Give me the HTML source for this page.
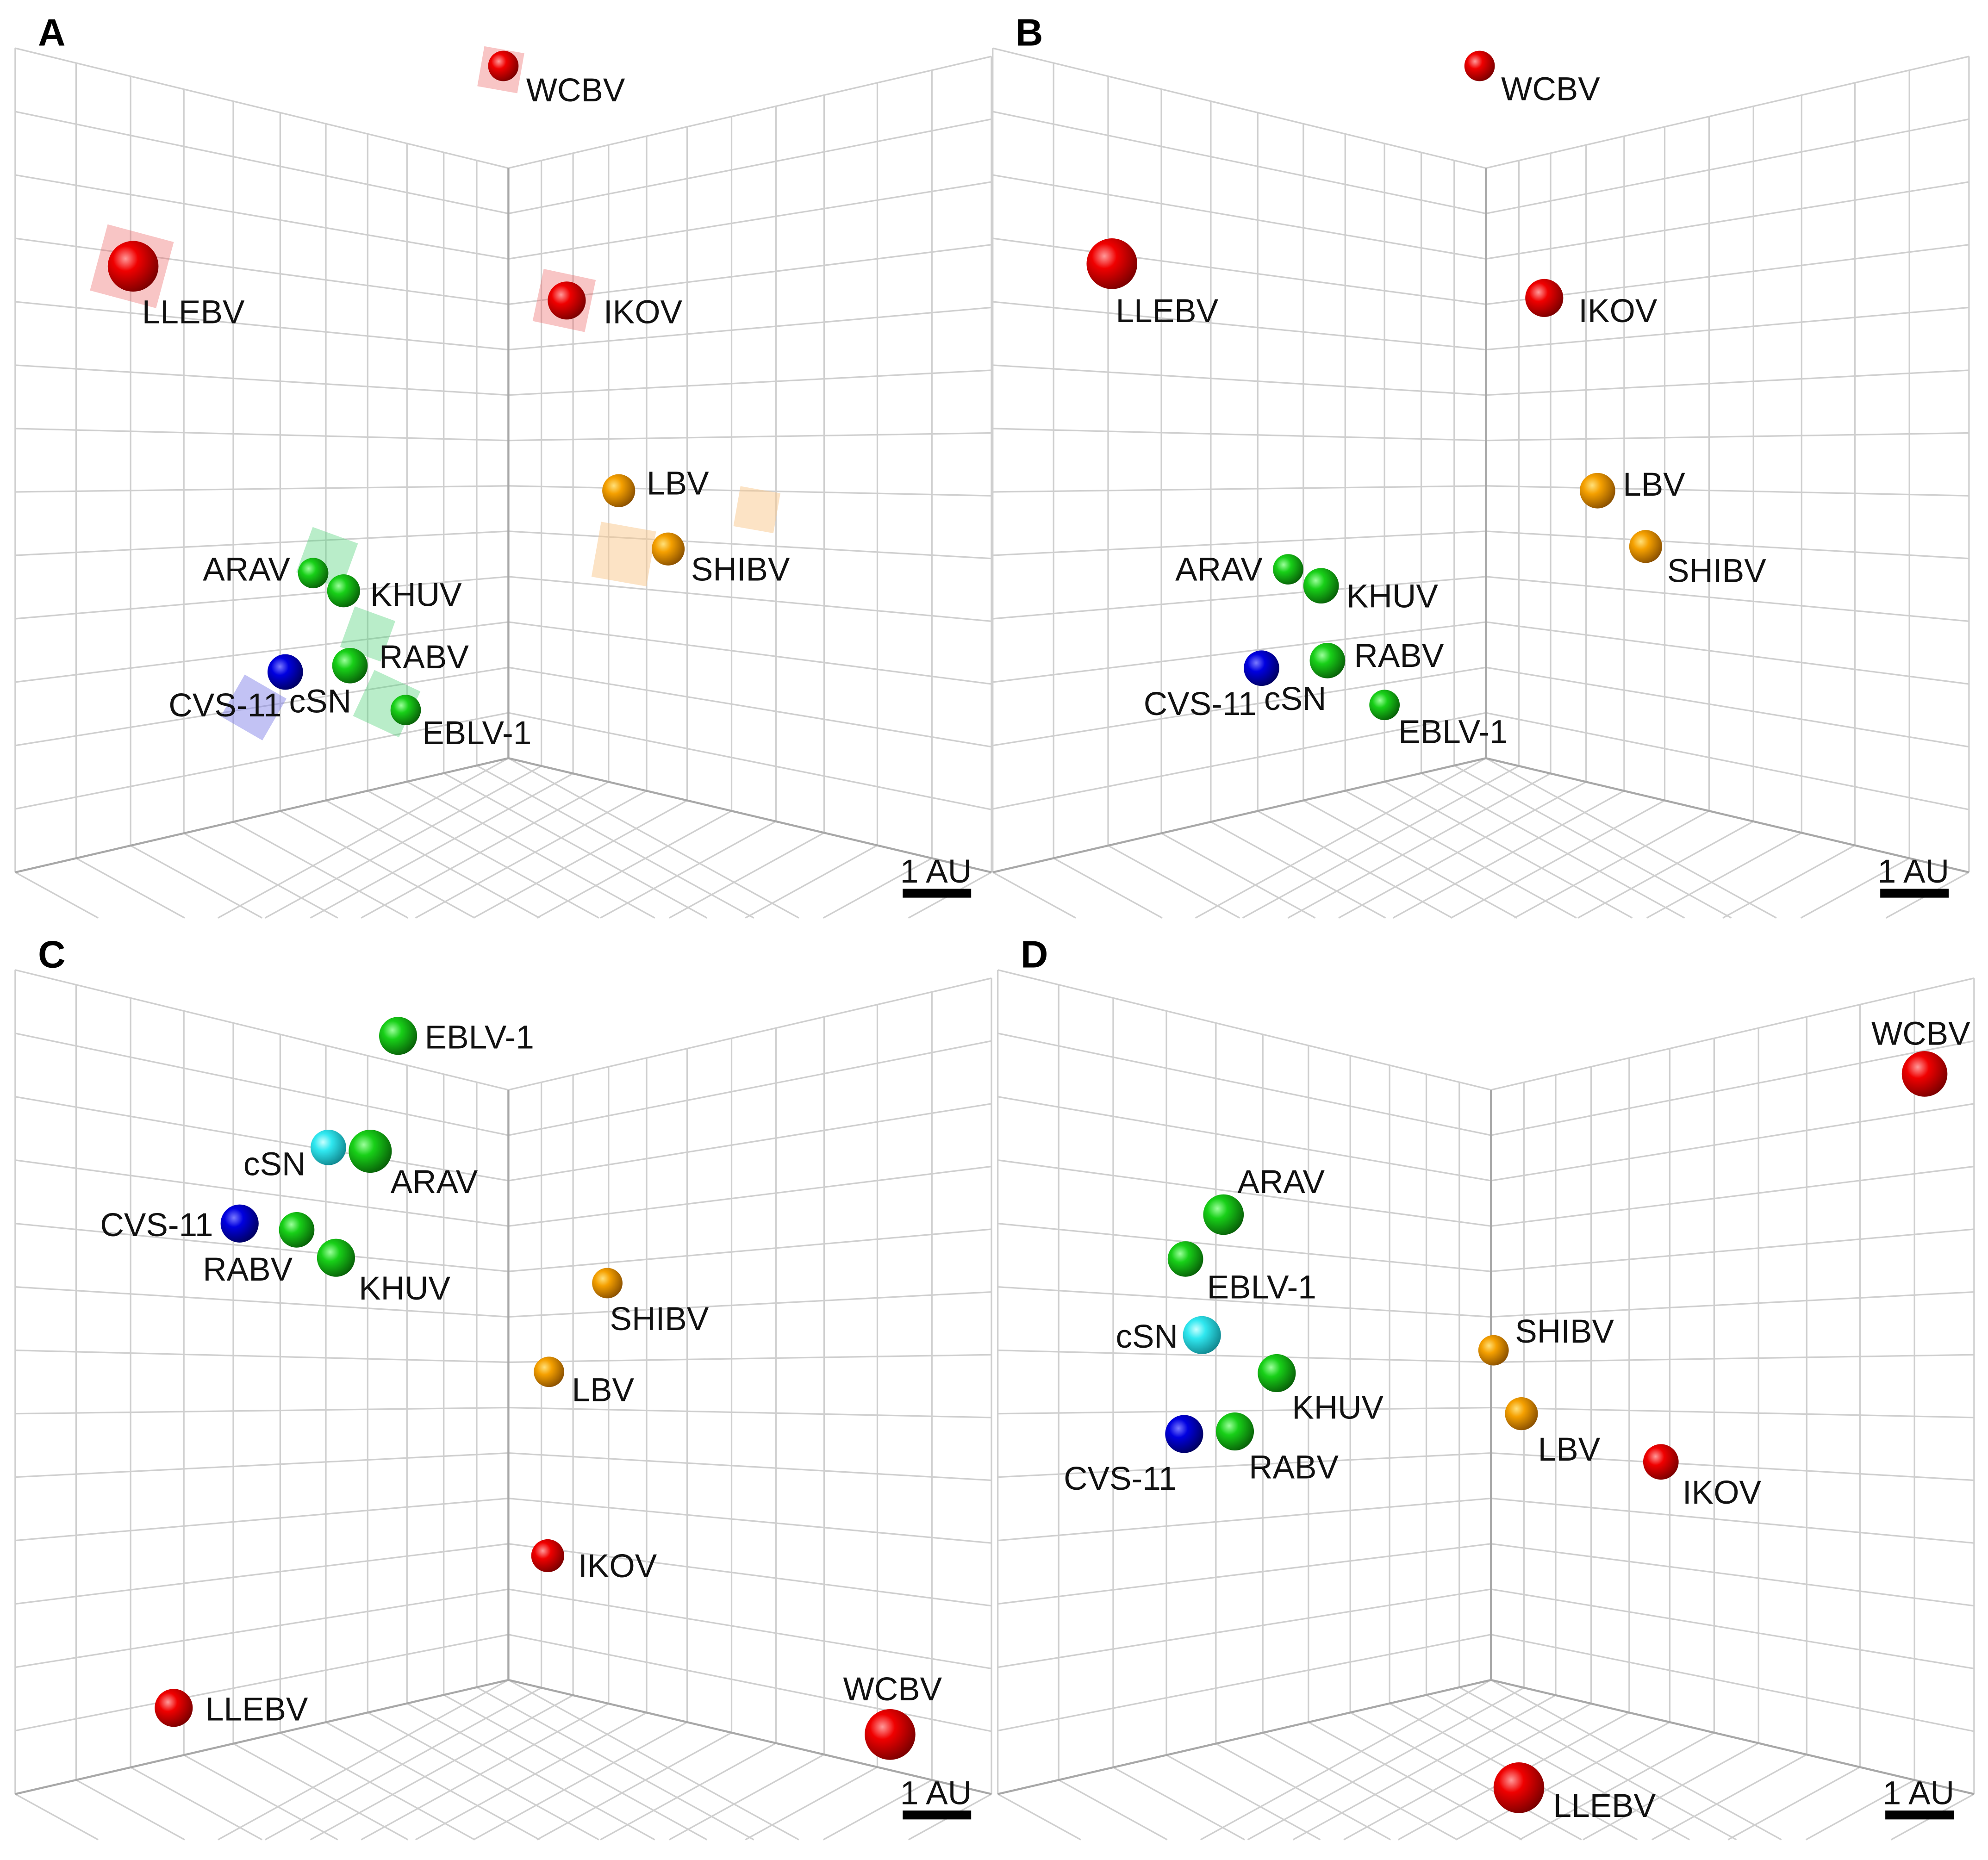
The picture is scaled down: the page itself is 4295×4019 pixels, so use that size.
<!DOCTYPE html>
<html><head><meta charset="utf-8"><style>
html,body{margin:0;padding:0;background:#fff;width:4295px;height:4019px;overflow:hidden}
svg{display:block;overflow:hidden}
text{font-family:"Liberation Sans",sans-serif}
</style></head><body>
<svg id="fig" width="4295" height="4019" viewBox="0 0 1568 1467" preserveAspectRatio="none" xmlns="http://www.w3.org/2000/svg">
<defs>
<radialGradient id="g-red" cx="0.35" cy="0.35" r="0.7"><stop offset="0" stop-color="#ff9a9a"/><stop offset="0.35" stop-color="#f00000"/><stop offset="1" stop-color="#7a0000"/></radialGradient>
<radialGradient id="g-green" cx="0.35" cy="0.35" r="0.7"><stop offset="0" stop-color="#9cff9c"/><stop offset="0.35" stop-color="#18d018"/><stop offset="1" stop-color="#086008"/></radialGradient>
<radialGradient id="g-blue" cx="0.35" cy="0.35" r="0.7"><stop offset="0" stop-color="#7a7aff"/><stop offset="0.35" stop-color="#0000e0"/><stop offset="1" stop-color="#000060"/></radialGradient>
<radialGradient id="g-orange" cx="0.35" cy="0.35" r="0.7"><stop offset="0" stop-color="#ffe07a"/><stop offset="0.35" stop-color="#f5a000"/><stop offset="1" stop-color="#8a5000"/></radialGradient>
<radialGradient id="g-cyan" cx="0.35" cy="0.35" r="0.7"><stop offset="0" stop-color="#c8ffff"/><stop offset="0.35" stop-color="#30e8f0"/><stop offset="1" stop-color="#108890"/></radialGradient>
</defs>
</svg>
<script>
// ---- data (projected plot coordinates, per panel) ----
const namesA = ["WCBV","LLEBV","IKOV","LBV","SHIBV","ARAV","KHUV","RABV","CVS-11","EBLV-1"];
const xA = [397,105,447,488,527,247,271,276,225,320];
const yA = [52,210,237,387,433,452,466,525,530,560];
const rA = [12,20,15,13,13,12,13,14,14,12];
const cA = ["red","red","red","orange","orange","green","green","green","blue","green"];
const lxA = [415,112,476,510,545,160,292,299,133,333];
const lyA = [80,255,255,390,458,458,478,527,565,587];

const namesB = ["WCBV","LLEBV","IKOV","LBV","SHIBV","ARAV","KHUV","RABV","CVS-11","EBLV-1"];
const xB = [396,106,447,489,527,245,271,276,224,321];
const yB = [52,208,235,387,431,449,462,521,527,556];
const rB = [12,20,15,14,13,12,14,14,14,12];
const cB = cA;
const lxB = [413,109,474,509,544,156,291,297,131,332];
const lyB = [79,254,254,391,459,458,479,526,564,586];

const namesC = ["EBLV-1","cSN","ARAV","CVS-11","RABV","KHUV","SHIBV","LBV","IKOV","LLEBV","WCBV"];
const xC = [314,259,292,189,234,265,479,433,432,137,702];
const yC = [90,178,181,238,243,265,285,355,500,620,641];
const rC = [15,14,17,15,14,15,12,12,13,15,20];
const cC = ["green","cyan","green","blue","green","green","orange","orange","red","red","red"];
const lxC = [335,192,308,79,160,283,481,451,456,162,665];
const lyC = [100,200,214,248,283,298,322,378,517,630,614];

const namesD = ["WCBV","ARAV","EBLV-1","cSN","KHUV","CVS-11","RABV","SHIBV","LBV","IKOV","LLEBV"];
const xD = [743,190,160,173,232,159,199,403,425,535,423];
const yD = [120,231,266,326,356,404,402,338,388,426,683];
const rD = [18,16,14,15,15,15,15,12,13,14,20];
const cD = ["red","green","green","cyan","green","blue","green","orange","orange","red","red"];
const lxD = [701,201,177,105,244,64,210,420,438,552,450];
const lyD = [97,214,297,336,392,448,439,332,425,459,706];

const panelLetters = ["A","B","C","D"];

// ---- geometry ----
const NS = "http://www.w3.org/2000/svg";
const svg = document.getElementById("fig");
function mk(tag, attrs, parent){const e=document.createElementNS(NS,tag);for(const k in attrs)e.setAttribute(k,attrs[k]);(parent||svg).appendChild(e);return e;}
const panelOrigins = [[0,0],[771,0],[0,727],[775,727]];
const leftXs=[12,60,103,145,184,221,257,290,321,350,376,401];
const rightXs=[401,427,452,480,510,542,577,612,650,692,735,782];
const FLOOR_BOTTOM=724;
function yLeft(x,k){const yl=688-50*k, yc=598-35.8*k; return yl+(yc-yl)*(x-12)/(401-12);}
function yRight(x,k){const yc=598-35.8*k, yr=688-49.5*k; return yc+(yr-yc)*(x-401)/(782-401);}
function sx(v,ox){return ox+v;}
function sy(v,oy){return oy+v;}

function drawGrid(g){
  const st={stroke:"#cfcfcf","stroke-width":1.2,fill:"none"};
  for(let k=0;k<=13;k++){
    const l=mk("line",Object.assign({x1:12,y1:yLeft(12,k),x2:401,y2:yLeft(401,k)},st),g);
    
    
    const r=mk("line",Object.assign({x1:401,y1:yRight(401,k),x2:782,y2:yRight(782,k)},st),g);
    
    
  }
  leftXs.forEach(x=>{const l=mk("line",Object.assign({x1:x,y1:yLeft(x,13),x2:x,y2:yLeft(x,0)},st),g);
    
    });
  rightXs.forEach(x=>{const l=mk("line",Object.assign({x1:x,y1:yRight(x,13),x2:x,y2:yRight(x,0)},st),g);
    
    });
  leftXs.forEach(x=>{const y=yLeft(x,0);const t=(FLOOR_BOTTOM-y)/0.55;
    const l=mk("line",Object.assign({x1:x,y1:y,x2:Math.min(x+t,784),y2:y+0.55*Math.min(t,784-x)},st),g);
    
    });
  rightXs.forEach(x=>{const y=yRight(x,0);const t=Math.min((FLOOR_BOTTOM-y)/0.55,x-11);
    const l=mk("line",Object.assign({x1:x,y1:y,x2:x-t,y2:y+0.55*t},st),g);
    
    });
  const e1=mk("polyline",{points:"12,688 401,598 782,688",stroke:"#a8a8a8","stroke-width":1.6,fill:"none"},g);
  
  
  const e2=mk("line",{x1:401,y1:yLeft(401,13),x2:401,y2:598,stroke:"#a8a8a8","stroke-width":1.6},g);
  
  
}

function drawPanel(i,names,xs,ys,rs,cs,lx,ly,cubes){
  const [ox,oy]=panelOrigins[i];
  const g=mk("g",{transform:`translate(${ox},${oy})`});
  
  
  const grid=mk("g",{},g);
  
  
  drawGrid(grid);
  if(cubes){cubes.forEach(c=>{
    const s=mk("rect",{x:c[0]-c[2]/2,y:c[1]-c[2]/2,width:c[2],height:c[2],fill:c[3],transform:`rotate(${c[4]} ${c[0]} ${c[1]})`},g);
    
    });}
  names.forEach((n,j)=>{
    const c=mk("circle",{cx:sx(xs[j],0),cy:sy(ys[j],0),r:rs[j],fill:`url(#g-${cs[j]})`},g);
    
    
    const t=mk("text",{x:lx[j],y:ly[j],"font-size":26,fill:"#111"},g);
    t.textContent=n;
    
    
  });
  if(i<2){const t=mk("text",{x:i==0?228:226,y:i==0?562:560,"font-size":26,fill:"#111"},g);t.textContent="cSN";
    
    }
  const L=mk("text",{x:30,y:36,"font-size":30,"font-weight":"bold",fill:"#000"},g);
  L.textContent=panelLetters[i];
  
  
  const au=mk("text",{x:710,y:696,"font-size":26,fill:"#111"},g);
  au.textContent="1 AU";
  
  
  const bar=mk("rect",{x:712,y:701,width:54,height:7,fill:"#000"},g);
  
  
}
const cubesA=[[104,210,54,"rgba(235,90,90,0.35)",15],[395,55,32,"rgba(235,90,90,0.35)",10],[445,237,42,"rgba(235,90,90,0.35)",12],
 [258,440,38,"rgba(80,210,120,0.4)",20],[290,500,34,"rgba(80,210,120,0.4)",20],[305,555,40,"rgba(80,210,120,0.4)",25],
 [200,558,38,"rgba(120,120,230,0.45)",30],[492,437,44,"rgba(250,200,140,0.5)",10],[597,402,32,"rgba(250,200,140,0.5)",10]];
drawPanel(0,namesA,xA,yA,rA,cA,lxA,lyA,cubesA);
drawPanel(1,namesB,xB,yB,rB,cB,lxB,lyB,null);
drawPanel(2,namesC,xC,yC,rC,cC,lxC,lyC,null);
drawPanel(3,namesD,xD,yD,rD,cD,lxD,lyD,null);
</script>
</body></html>
